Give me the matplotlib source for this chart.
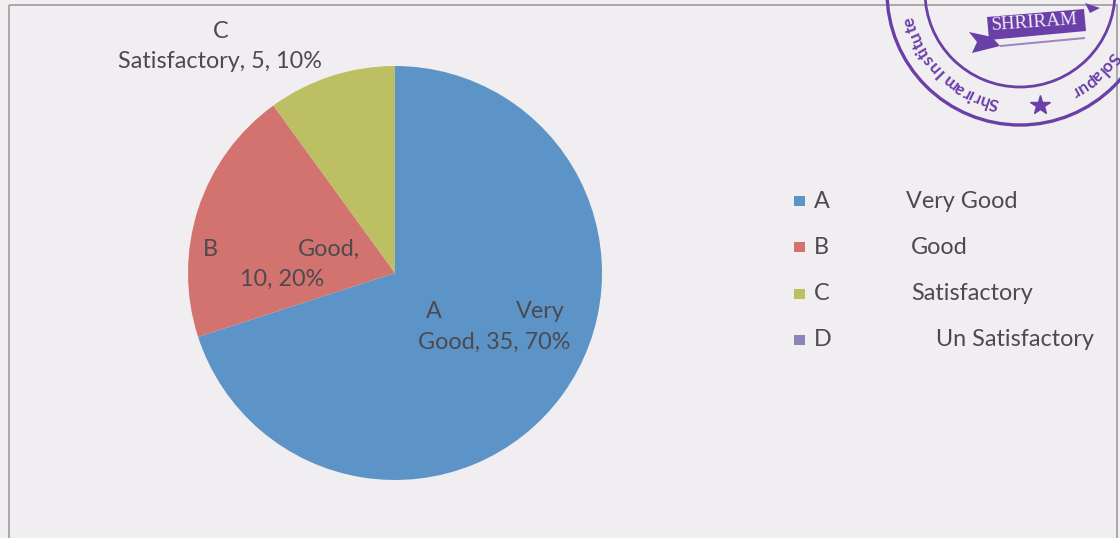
import numpy as np
import matplotlib
matplotlib.use("Agg")
import matplotlib.pyplot as plt
from matplotlib.patches import Rectangle, Circle, Polygon
from matplotlib.textpath import text_to_path
from matplotlib.font_manager import FontProperties

categories = ["A", "B", "C", "D"]
descriptions = ["Very Good", "Good", "Satisfactory", "Un Satisfactory"]
values = [35, 10, 5, 0]
colors = ["#5c94c8", "#d3736f", "#bcbf62", "#8b84b8"]

plt.rcParams["font.family"] = ["Lato", "DejaVu Sans"]
W, H = 1120, 538
fig = plt.figure(figsize=(W / 100, H / 100), dpi=100, facecolor="#f0eef0")

# Pie occupies a square axes centred on the plot area
cx, cy, r = 395, 273, 207
ax = fig.add_axes([(cx - r) / W, 1 - (cy + r) / H, 2 * r / W, 2 * r / H])
ax.pie(values, colors=colors, startangle=90, counterclock=False, radius=1)
ax.set_xlim(-1, 1)
ax.set_ylim(-1, 1)

# Pixel-coordinate overlay for the frame, labels, legend and seal
ov = fig.add_axes([0, 0, 1, 1], facecolor="none")
ov.set_xlim(0, W)
ov.set_ylim(H, 0)
ov.axis("off")

ov.add_patch(Rectangle((9, 5), 1108, 540, fill=False, edgecolor="#a9a7a8", linewidth=1.4))

tc = "#4c4a50"
fs = 16.8
def put(x, y, s, ha="center"):
    ov.text(x, y, s, ha=ha, va="center", color=tc, fontsize=fs)

# Data labels
put(221, 31, "C")
put(220, 61, "Satisfactory, 5, 10%")
put(210, 249, "B")
put(329, 249, "Good,")
put(282, 279, "10, 20%")
put(434, 312, "A")
put(540, 312, "Very")
put(494, 342, "Good, 35, 70%")

# Legend
legend_y = [201, 247, 294, 340]
desc_x = [906, 911, 911, 936]
for c, d, col, y, dx in zip(categories, descriptions, colors, legend_y, desc_x):
    ov.add_patch(Rectangle((794, y - 5), 11, 10, facecolor=col, edgecolor="none"))
    put(814, y, c, ha="left")
    put(dx, y, d, ha="left")

# Institute seal in the top right corner
seal = "#6a3fa8"
sx, sy = 1020, -8
for rad, lw in [(133, 2.4), (95, 2.0)]:
    ov.add_patch(Circle((sx, sy), rad, fill=False, edgecolor=seal, linewidth=lw))

ring_size = 12.5
ring_font = FontProperties(family="Lato", weight="bold", size=ring_size * 100 / 72)

def ring_text(s, start, rad=114):
    # Letters run clockwise with their tops pointing outward, spaced by advance width
    phi = start
    for ch in s:
        adv = text_to_path.get_text_width_height_descent(ch, ring_font, False)[0]
        step = np.degrees(adv * 1.02 / rad)
        mid = np.radians(phi - step / 2)
        ov.text(sx + rad * np.cos(mid), sy - rad * np.sin(mid), ch,
                rotation=np.degrees(mid) - 90, rotation_mode="anchor",
                ha="center", va="center", color=seal, fontsize=ring_size, fontweight="bold")
        phi -= step

ring_text("Shriram Institute", 259)
ring_text("Solapur", 327)
ov.plot([1040], [105], marker="*", markersize=15, color=seal, linestyle="none")

# Name banner with its ribbon tails
ov.add_patch(Polygon([[987, 17], [1084, 9], [1086, 31], [989, 40]], facecolor=seal, edgecolor="none"))
ov.add_patch(Polygon([[969, 32], [992, 37], [1000, 46], [972, 53], [977, 42]], facecolor=seal, edgecolor="none"))
ov.add_patch(Polygon([[1085, 3], [1100, 8], [1090, 13]], facecolor=seal, edgecolor="none"))
ov.add_patch(Polygon([[1000, 45], [1085, 37], [1085, 39], [1000, 47]], facecolor=seal, edgecolor="none", alpha=0.6))
ov.text(1035, 22, "SHRIRAM", rotation=4, ha="center", va="center", color="#f2ecf6",
        fontsize=13.7, family="Liberation Serif")

fig.savefig("out.png", dpi=100, facecolor=fig.get_facecolor())
